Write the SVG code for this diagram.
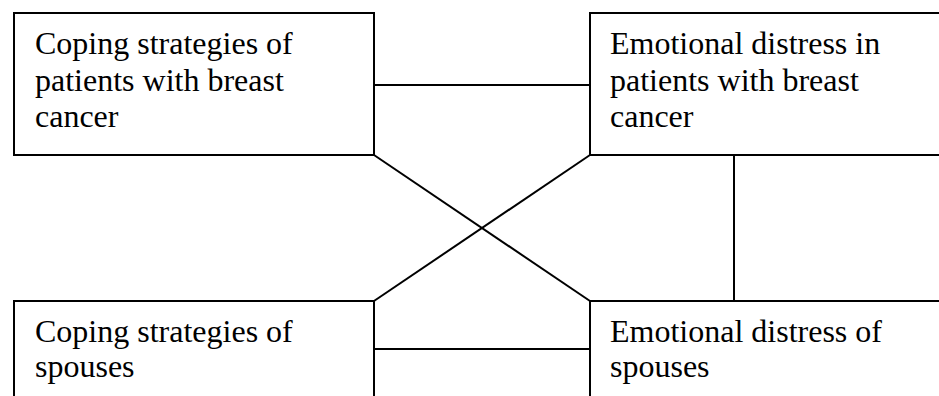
<svg xmlns="http://www.w3.org/2000/svg" width="939" height="396" viewBox="0 0 939 396">
<style>
.box{fill:#fff;stroke:#000;stroke-width:2}
.ln{stroke:#000;stroke-width:2;fill:none}
text{font-family:"Liberation Serif","Times New Roman",serif;font-size:32px;fill:#000}
</style>
<rect width="939" height="396" fill="#fff"/>
<g id="connectors">
<line class="ln" x1="374" y1="85" x2="590" y2="85"/>
<line class="ln" x1="374" y1="155" x2="590" y2="301"/>
<line class="ln" x1="590" y1="155" x2="374" y2="301"/>
<line class="ln" x1="734" y1="155" x2="734" y2="301"/>
<line class="ln" x1="374" y1="349" x2="590" y2="349"/>
</g>
<g id="n1">
<rect class="box" x="14" y="13" width="360" height="142"/>
<text x="35" y="54">Coping strategies of</text>
<text x="35" y="91">patients with breast</text>
<text x="35" y="127">cancer</text>
</g>
<g id="n2">
<rect class="box" x="590" y="13" width="360" height="142"/>
<text x="610" y="54">Emotional distress in</text>
<text x="610" y="91">patients with breast</text>
<text x="610" y="127">cancer</text>
</g>
<g id="n3">
<rect class="box" x="14" y="301" width="360" height="120"/>
<text x="35" y="342">Coping strategies of</text>
<text x="35" y="377">spouses</text>
</g>
<g id="n4">
<rect class="box" x="590" y="301" width="360" height="120"/>
<text x="610" y="342">Emotional distress of</text>
<text x="610" y="377">spouses</text>
</g>
</svg>
